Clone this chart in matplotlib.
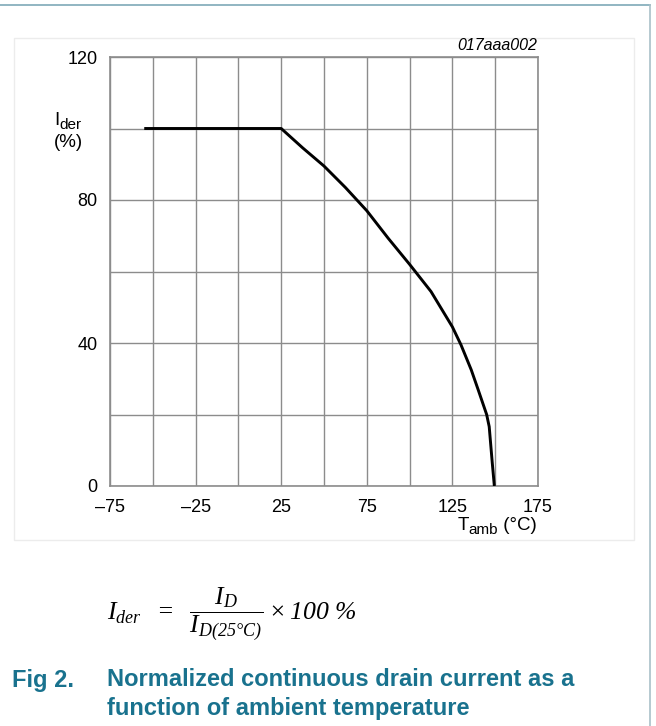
import matplotlib
matplotlib.use("Agg")
import matplotlib.pyplot as plt
from matplotlib.patches import Rectangle
from matplotlib.lines import Line2D

# derating curve
t_amb = [-55, 25, 37.5, 50, 62.5, 75, 87.5, 100, 112.5, 125, 130, 136, 140, 145, 146.5, 148.3, 149.5]
i_der = [100, 100, 94.6, 89.5, 83.5, 77, 69.3, 62, 54.4, 44.5, 39.5, 32.5, 27, 20, 16.6, 6.4, 0]

x_ticks = [-75, -25, 25, 75, 125, 175]
y_ticks = [0, 40, 80, 120]
x_grid = list(range(-75, 176, 25))
y_grid = list(range(0, 121, 20))

plt.rcParams['font.family'] = ['Liberation Sans', 'DejaVu Sans']
# formula is set in a Times-like italic
plt.rcParams['mathtext.fontset'] = 'custom'
plt.rcParams['mathtext.rm'] = 'Liberation Serif:italic'
plt.rcParams['mathtext.it'] = 'Liberation Serif:italic'

W, H = 656, 726
fig = plt.figure(figsize=(W / 100, H / 100), dpi=100)
renderer = fig.canvas.get_renderer()

def fx(px):
    return px / W

def fy(py):
    return 1 - py / H

def sub_label(x, y, parts, ha='left'):
    # parts: (text, size, drop in px); laid out left to right
    widths = []
    for txt, size, drop in parts:
        t = fig.text(0, 0, txt, fontsize=size)
        widths.append(t.get_window_extent(renderer).width)
        t.remove()
    start = x - sum(widths) if ha == 'right' else x
    for (txt, size, drop), w in zip(parts, widths):
        fig.text(fx(start), fy(y + drop), txt, fontsize=size, va='baseline', ha='left')
        start += w

# page frame lines
fig.add_artist(Line2D([0, fx(650)], [fy(5), fy(5)], color='#7ea9b8', lw=1.2))
fig.add_artist(Line2D([fx(650), fx(650)], [fy(5), 0], color='#a9c0c8', lw=1.2))
# light panel box
fig.add_artist(Rectangle((fx(14), fy(540)), fx(634) - fx(14), fy(38) - fy(540),
                         fill=False, edgecolor='#ececec', lw=1))

ax = fig.add_axes([fx(110), fy(486), fx(538) - fx(110), fy(57) - fy(486)])
ax.plot(t_amb, i_der, color='black', lw=2.1, solid_capstyle='butt',
        solid_joinstyle='round', zorder=3)

ax.set_xlim(-75, 175)
ax.set_ylim(0, 120)
ax.set_xticks(x_ticks)
ax.set_yticks(y_ticks)
ax.set_xticks(x_grid, minor=True)
ax.set_yticks(y_grid, minor=True)
ax.set_xticklabels([f'{v}'.replace('-', '\u2013') for v in x_ticks])
ax.tick_params(which='both', length=0, labelsize=13, colors='black')
ax.tick_params(axis='x', pad=9)
ax.tick_params(axis='y', pad=9)
ax.grid(which='both', color='#8c8c8c', lw=1)
for s in ax.spines.values():
    s.set_color('#8c8c8c')
    s.set_linewidth(1.2)

sub_label(54, 125, [('I', 13.5, 0), ('der', 11, 4)])
fig.text(fx(54), fy(147), '(%)', fontsize=13.5, va='baseline', ha='left')
sub_label(537, 530, [('T', 13.5, 0), ('amb', 11, 4), (' (°C)', 13.5, 0)], ha='right')
fig.text(fx(537), fy(46), '017aaa002', fontsize=11.5, style='italic', va='center', ha='right')

fig.text(fx(107), fy(614),
         r'$I_{der}\ \ =\ \ \dfrac{I_D}{I_{D(25°C)}}\times 100\ \%$',
         fontsize=18.5, math_fontfamily='custom', va='center', ha='left')

cap = '#19728e'
fig.text(fx(12), fy(680), 'Fig 2.', fontsize=17, weight='bold', color=cap, va='center')
fig.text(fx(107), fy(680), 'Normalized continuous drain current as a',
         fontsize=17, weight='bold', color=cap, va='center')
fig.text(fx(107), fy(708), 'function of ambient temperature',
         fontsize=17, weight='bold', color=cap, va='center')

fig.savefig('out.png', dpi=100)
